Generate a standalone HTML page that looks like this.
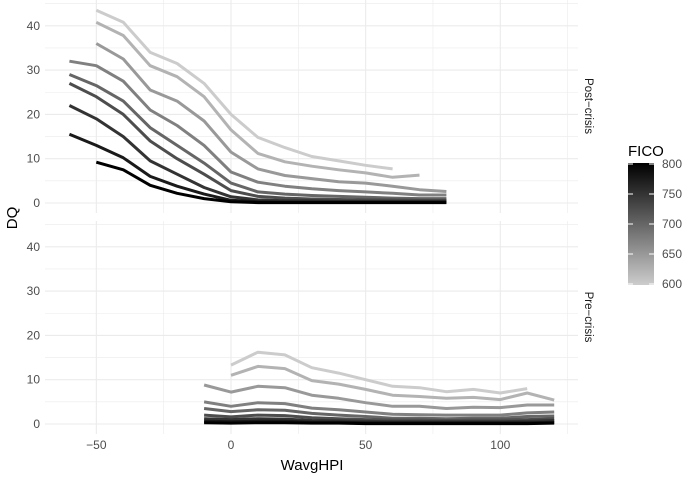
<!DOCTYPE html>
<html><head><meta charset="utf-8"><style>
body{margin:0;background:#fff;font-family:"Liberation Sans",sans-serif}
</style></head><body>
<svg id="chart" width="685" height="475" xmlns="http://www.w3.org/2000/svg" font-family="Liberation Sans, sans-serif">
<defs><linearGradient id="cb" x1="0" y1="1" x2="0" y2="0">
<stop offset="0" stop-color="rgb(204,204,204)"/><stop offset="1" stop-color="rgb(0,0,0)"/></linearGradient></defs>
<g id="grid"></g><g id="lines"></g><g id="axes"></g>
<text transform="translate(17,218) rotate(-90)" text-anchor="middle" font-size="15" fill="#000">DQ</text>
<text x="312" y="470" text-anchor="middle" font-size="15" fill="#000">WavgHPI</text>
<text transform="translate(585,106) rotate(90)" text-anchor="middle" font-size="11.5" fill="#1a1a1a">Post−crisis</text>
<text transform="translate(585,317) rotate(90)" text-anchor="middle" font-size="11.5" fill="#1a1a1a">Pre−crisis</text>
<g>
<text x="628" y="156" font-size="15" fill="#000">FICO</text>
<rect x="628" y="163" width="26" height="122" fill="url(#cb)"/>
<g id="leg"></g>
</g>
</svg>
<script>
const xs = [-60,-50,-40,-30,-20,-10,0,10,20,30,40,50,60,70,80,90,100,110,120];
const ficoLevels = [600,625,650,675,700,725,750,775,800];
const xTicks = [-50,0,50,100];
const yTicks = [0,10,20,30,40];
const legendTicks = [600,650,700,750,800];
// post-crisis values per FICO level (null = no data), aligned to xs
const post600 = [null,43.5,40.8,34,31.5,27,20,14.8,12.5,10.5,9.5,8.5,7.7,null,null,null,null,null,null];
const post625 = [null,40.8,37.8,31,28.5,24,16.5,11.2,9.3,8.3,7.5,6.8,5.8,6.3,null,null,null,null,null];
const post650 = [null,36,32.5,25.5,23,18.5,11.5,7.7,6.2,5.5,4.8,4.5,3.8,3,2.6,null,null,null,null];
const post675 = [32,31,27.5,21,17.5,13,7,4.7,3.8,3.2,2.8,2.5,2.2,1.8,1.8,null,null,null,null];
const post700 = [29,26.5,23,17,13,9,4.5,2.5,2,1.7,1.5,1.3,1.1,1,1,null,null,null,null];
const post725 = [27,24,20,14,10,6.5,2.8,1.5,1.1,0.9,0.8,0.7,0.7,0.6,0.6,null,null,null,null];
const post750 = [22,19,15,9.5,6.5,3.5,1.4,0.7,0.5,0.5,0.4,0.4,0.4,0.4,0.4,null,null,null,null];
const post775 = [15.5,13,10.2,6,3.8,2,0.6,0.3,0.2,0.2,0.2,0.2,0.2,0.2,0.2,null,null,null,null];
const post800 = [null,9.2,7.5,4,2.2,1,0.3,0.1,0.1,0.1,0.1,0.1,0.1,0.1,0.1,null,null,null,null];
const pre600 = [null,null,null,null,null,null,13.3,16.2,15.6,12.7,11.5,10,8.5,8.2,7.3,7.8,7,8,null];
const pre625 = [null,null,null,null,null,null,11,13,12.5,9.8,9,7.8,6.5,6.2,5.8,6,5.5,7,5.4];
const pre650 = [null,null,null,null,null,8.8,7.2,8.5,8.2,6.5,5.8,4.8,4,4,3.5,3.8,3.7,4.3,4.3];
const pre675 = [null,null,null,null,null,5,4,4.8,4.6,3.6,3.2,2.7,2.2,2.1,2,2,2,2.5,2.7];
const pre700 = [null,null,null,null,null,3.5,2.8,3.2,3.1,2.4,2,1.7,1.3,1.3,1.2,1.3,1.3,1.7,1.8];
const pre725 = [null,null,null,null,null,2,1.6,2,1.9,1.4,1.2,1,0.9,0.9,0.8,0.9,0.9,1,1.2];
const pre750 = [null,null,null,null,null,1.2,1,1.2,1.1,0.8,0.7,0.6,0.5,0.5,0.5,0.5,0.5,0.6,0.8];
const pre775 = [null,null,null,null,null,0.6,0.5,0.6,0.6,0.4,0.4,0.3,0.3,0.3,0.3,0.3,0.3,0.3,0.4];
const pre800 = [null,null,null,null,null,0.3,0.2,0.3,0.3,0.2,0.2,0.1,0.1,0.1,0.1,0.1,0.1,0.1,0.2];
const postSeries = [post600,post625,post650,post675,post700,post725,post750,post775,post800];
const preSeries = [pre600,pre625,pre650,pre675,pre700,pre725,pre750,pre775,pre800];

const NS="http://www.w3.org/2000/svg";
function mk(tag,attrs,parent){const e=document.createElementNS(NS,tag);for(const k in attrs)e.setAttribute(k,attrs[k]);parent.appendChild(e);return e;}
const X=v=>231+v*2.693;
const PL=45,PR=578;
const panels=[{name:'post',zero:203,top:0,bot:213,series:postSeries},{name:'pre',zero:424,top:221,bot:434,series:preSeries}];
const K=4.43;
const col=f=>{const g=Math.round(204*(800-f)/200);return `rgb(${g},${g},${g})`;};
const grid=document.getElementById('grid'),lines=document.getElementById('lines'),axes=document.getElementById('axes');
panels.forEach(p=>{
  const Y=v=>p.zero-v*K;
  for(let v=-75;v<=125;v+=25){const x=X(v);if(x<PL||x>PR)continue;const major=v%50===0;
    const l=mk('line',{x1:x,x2:x,y1:p.top,y2:p.bot,stroke:'#ebebeb','stroke-width':major?1.1:0.6},grid);
    }
  for(let v=0;v<=45;v+=5){const y=Y(v);if(y<p.top)continue;const major=v%10===0;
    const l=mk('line',{x1:PL,x2:PR,y1:y,y2:y,stroke:'#ebebeb','stroke-width':major?1.1:0.6},grid);
    }
  yTicks.forEach(v=>{const t=mk('text',{x:40,y:Y(v)+4,'text-anchor':'end','font-size':'12',fill:'#4d4d4d'},axes);t.textContent=v;
    });
  p.series.forEach((arr,i)=>{let d='',pen=false;
    arr.forEach((v,j)=>{if(v==null){pen=false;return;}d+=(pen?'L':'M')+X(xs[j]).toFixed(1)+','+Y(v).toFixed(1);pen=true;});
    const path=mk('path',{d:d,fill:'none',stroke:col(ficoLevels[i]),'stroke-width':3,'stroke-linejoin':'round'},lines);
    });
});
xTicks.forEach(v=>{const t=mk('text',{x:X(v),y:449,'text-anchor':'middle','font-size':'12',fill:'#4d4d4d'},axes);t.textContent=v===0?'0':(v<0?'−'+(-v):v);
  });
const leg=document.getElementById('leg');
legendTicks.forEach(f=>{const y=285-(f-600)/200*120-1;
  const a=mk('line',{x1:628,x2:633,y1:y,y2:y,stroke:'#fff','stroke-width':1},leg);
  const b=mk('line',{x1:649,x2:654,y1:y,y2:y,stroke:'#fff','stroke-width':1},leg);
  const t=mk('text',{x:662,y:y+4,'font-size':'12',fill:'#4d4d4d'},leg);t.textContent=f;
  });
</script>
</body></html>
